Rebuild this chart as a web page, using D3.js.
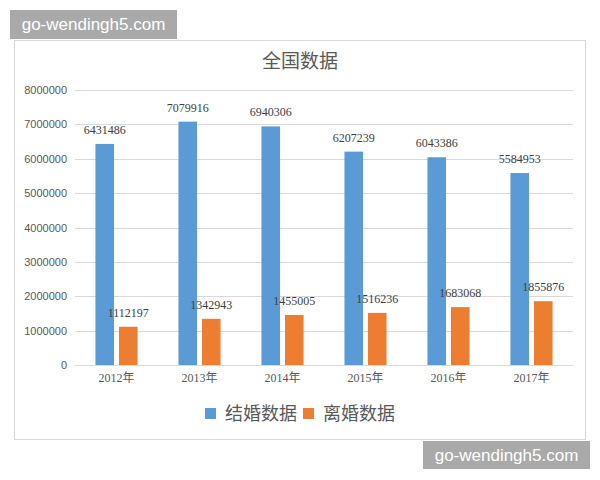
<!DOCTYPE html>
<html>
<head>
<meta charset="utf-8">
<script src="https://cdn.jsdelivr.net/npm/d3@7"></script>
<style>
  html, body { margin: 0; padding: 0; background: #ffffff; }
  svg { display: block; }
</style>
</head>
<body>
<svg id="chart" width="600" height="480"></svg>
<script>
const title = "全国数据";
const categories = ["2012年", "2013年", "2014年", "2015年", "2016年", "2017年"];
const seriesNames = ["结婚数据", "离婚数据"];
const marriage = [6431486, 7079916, 6940306, 6207239, 6043386, 5584953];
const divorce = [1112197, 1342943, 1455005, 1516236, 1683068, 1855876];
const yTicks = [0, 1000000, 2000000, 3000000, 4000000, 5000000, 6000000, 7000000, 8000000];
const colors = ["#5b9bd5", "#ed7d31"];
const watermark = "go-wendingh5.com";

const svg = d3.select("#chart");
const serif = "'Liberation Serif', 'Noto Sans CJK SC', serif";
const sans = "'Liberation Sans', Arial, sans-serif";
const cjk = "'Noto Sans CJK SC', sans-serif";

// frame
svg.append("rect").attr("x", 14.5).attr("y", 40.5).attr("width", 571).attr("height", 399)
  .attr("fill", "#ffffff").attr("stroke", "#d9d9d9").attr("stroke-width", 1);

const x0 = d3.scaleBand().domain(categories).range([75, 573]).padding(0);
const x1 = d3.scaleBand().domain(seriesNames).range([0, x0.bandwidth()])
  .paddingInner(0.21).paddingOuter(0.87);
const y = d3.scaleLinear().domain([0, 8000000]).range([365, 90]);

// gridlines
svg.append("g").selectAll("line").data(yTicks).join("line")
  .attr("x1", 75).attr("x2", 573)
  .attr("y1", d => Math.round(y(d)) + 0.5).attr("y2", d => Math.round(y(d)) + 0.5)
  .attr("stroke", "#d9d9d9").attr("stroke-width", 1);

// y axis
const yAxis = d3.axisLeft(y).tickValues(yTicks).tickSize(0).tickPadding(0)
  .tickFormat(d => String(d));
const gy = svg.append("g").attr("transform", "translate(67,0)").call(yAxis);
gy.select(".domain").remove();
gy.selectAll("text").attr("font-family", sans).attr("font-size", 11).attr("fill", "#595959");

// x axis
const xAxis = d3.axisBottom(x0).tickSize(0).tickPadding(0);
const gx = svg.append("g").attr("transform", "translate(0,373)").call(xAxis);
gx.select(".domain").remove();
gx.selectAll("text").attr("font-family", serif).attr("font-size", 12).attr("fill", "#595959")
  .attr("dy", "0.71em");

// bars
const rows = categories.map((c, i) => ({ cat: c, vals: [marriage[i], divorce[i]] }));
const groups = svg.append("g").selectAll("g").data(rows).join("g")
  .attr("transform", d => `translate(${x0(d.cat)},0)`);

groups.selectAll("rect").data(d => d.vals.map((v, j) => ({ s: seriesNames[j], v, j })))
  .join("rect")
  .attr("x", d => x1(d.s)).attr("width", x1.bandwidth())
  .attr("y", d => y(d.v)).attr("height", d => y(0) - y(d.v))
  .attr("fill", d => colors[d.j]);

groups.selectAll("text").data(d => d.vals.map((v, j) => ({ s: seriesNames[j], v, j })))
  .join("text")
  .attr("x", d => x1(d.s) + x1.bandwidth() / 2)
  .attr("y", d => y(d.v) - 10)
  .attr("text-anchor", "middle")
  .attr("font-family", serif).attr("font-size", 12).attr("fill", "#404040")
  .text(d => d.v);

// title
svg.append("text").attr("x", 300).attr("y", 68).attr("text-anchor", "middle")
  .attr("font-family", cjk).attr("font-size", 19).attr("fill", "#595959").text(title);

// legend
const legendX = [205, 303];
const lg = svg.append("g").selectAll("g").data(seriesNames).join("g")
  .attr("transform", (d, i) => `translate(${legendX[i]},408)`);
lg.append("rect").attr("width", 11).attr("height", 11).attr("fill", (d, i) => colors[i]);
lg.append("text").attr("x", 20).attr("y", 12).attr("font-family", cjk).attr("font-size", 18)
  .attr("fill", "#595959").text(d => d);

// watermarks
const wm = [{ x: 10, y: 10, w: 167, h: 29 }, { x: 423, y: 441, w: 167, h: 28 }];
const wg = svg.append("g").selectAll("g").data(wm).join("g")
  .attr("transform", d => `translate(${d.x},${d.y})`);
wg.append("rect").attr("width", d => d.w).attr("height", d => d.h).attr("fill", "#a9a9a9");
wg.append("text").attr("x", d => d.w / 2).attr("y", 20).attr("text-anchor", "middle")
  .attr("font-family", sans).attr("font-size", 17).attr("fill", "#ffffff").text(watermark);
</script>
</body>
</html>
